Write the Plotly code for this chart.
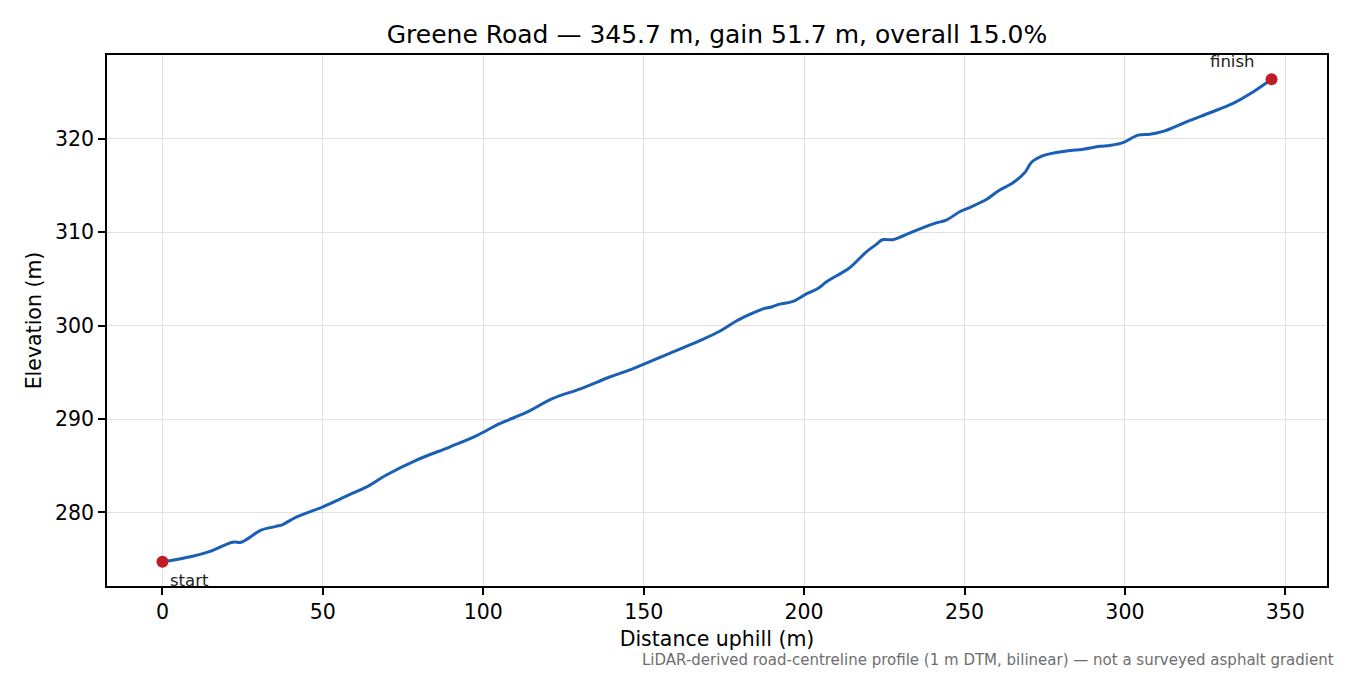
import plotly.graph_objects as go

# distance along the road (m) and elevation (m)
distance = [0, 9.4, 14.6, 21.9, 24.5, 27.1, 30.7, 35.4, 37.5, 41.7, 50.0,
            58.3, 63.5, 69.8, 79.2, 89.5, 97.8, 105.1, 113.4, 121.7, 130.0,
            139.4, 146.7, 157.1, 167.5, 173.7, 178.9, 183.1, 187.2, 189.8,
            192.4, 196.5, 200.7, 204.4, 207.0, 214.2, 219.4, 222.5, 224.4,
            227.7, 230.8, 237.1, 241.2, 244.3, 248.5, 250.6, 256.8, 260.4,
            265.1, 268.8, 270.9, 274.5, 281.8, 287.0, 292.2, 295.3, 299.4,
            304.1, 307.8, 311.9, 315.0, 319.7, 326.5, 333.7, 338.9, 345.7]
elevation = [274.7, 275.3, 275.8, 276.8, 276.8, 277.3, 278.1, 278.5, 278.7,
             279.5, 280.6, 281.9, 282.7, 284.0, 285.6, 287.0, 288.2, 289.5,
             290.7, 292.2, 293.2, 294.5, 295.4, 296.9, 298.4, 299.4, 300.5,
             301.2, 301.8, 302.0, 302.3, 302.6, 303.4, 304.0, 304.7, 306.2,
             307.9, 308.7, 309.2, 309.2, 309.6, 310.5, 311.0, 311.3, 312.2,
             312.5, 313.5, 314.4, 315.3, 316.4, 317.5, 318.2, 318.7, 318.9,
             319.2, 319.3, 319.6, 320.4, 320.5, 320.8, 321.2, 321.9, 322.8,
             323.8, 324.8, 326.4]

x_ticks = [0, 50, 100, 150, 200, 250, 300, 350]
y_ticks = [280, 290, 300, 310, 320]

title_text = "Greene Road — 345.7 m, gain 51.7 m, overall 15.0%"
note_text = "LiDAR-derived road-centreline profile (1 m DTM, bilinear) — not a surveyed asphalt gradient"

FONT = "DejaVu Sans"
BLUE = "#1a5fb4"
RED = "#c01c28"

# 5% padding like matplotlib's default margins
span_x = distance[-1] - distance[0]
span_y = max(elevation) - min(elevation)
x_range = [distance[0] - 0.05 * span_x, distance[-1] + 0.05 * span_x]
y_range = [min(elevation) - 0.05 * span_y, max(elevation) + 0.05 * span_y]

fig = go.Figure()
fig.add_trace(go.Scatter(x=distance, y=elevation, mode="lines",
                         line=dict(color=BLUE, width=3), line_shape="spline",
                         hoverinfo="skip"))
fig.add_trace(go.Scatter(x=[distance[0], distance[-1]],
                         y=[elevation[0], elevation[-1]], mode="markers",
                         marker=dict(color=RED, size=12), hoverinfo="skip"))

fig.add_annotation(x=distance[0], y=elevation[0], text="start", showarrow=False,
                   xanchor="left", yanchor="middle", xshift=6, yshift=-19,
                   font=dict(family=FONT, size=16.5, color="#222"))
fig.add_annotation(x=distance[-1], y=elevation[-1], text="finish", showarrow=False,
                   xanchor="center", yanchor="middle", xshift=-39, yshift=18,
                   font=dict(family=FONT, size=16.5, color="#222"))
fig.add_annotation(xref="paper", yref="paper", x=1.0074, y=-0.139,
                   text=note_text, showarrow=False, xanchor="right", yanchor="middle",
                   font=dict(family=FONT, size=15, color="#6e6e6e"))

axis_common = dict(showline=True, linecolor="black", linewidth=1.6, mirror=True,
                   ticks="outside", ticklen=7, tickwidth=1.6, tickcolor="black",
                   showgrid=True, gridcolor="#e2e2e2", gridwidth=1.3,
                   zeroline=False, tickfont=dict(family=FONT, size=20.5, color="black"))

# the page body adds an 8 px offset, so margins are trimmed by that amount
fig.update_layout(
    width=1350, height=675,
    margin=dict(l=99, r=31, t=47, b=97),
    paper_bgcolor="white", plot_bgcolor="white",
    showlegend=False,
    title=dict(text=title_text, x=0.5, xref="paper", y=1 - 26 / 675,
               yanchor="middle", xanchor="center",
               font=dict(family=FONT, size=25, color="black")),
    xaxis=dict(range=x_range, tickvals=x_ticks,
               title=dict(text="Distance uphill (m)", standoff=8,
                          font=dict(family=FONT, size=20.5, color="black")),
               **axis_common),
    yaxis=dict(range=y_range, tickvals=y_ticks,
               title=dict(text="Elevation (m)", standoff=8,
                          font=dict(family=FONT, size=20.5, color="black")),
               **axis_common),
)

fig.write_html("out.html")
